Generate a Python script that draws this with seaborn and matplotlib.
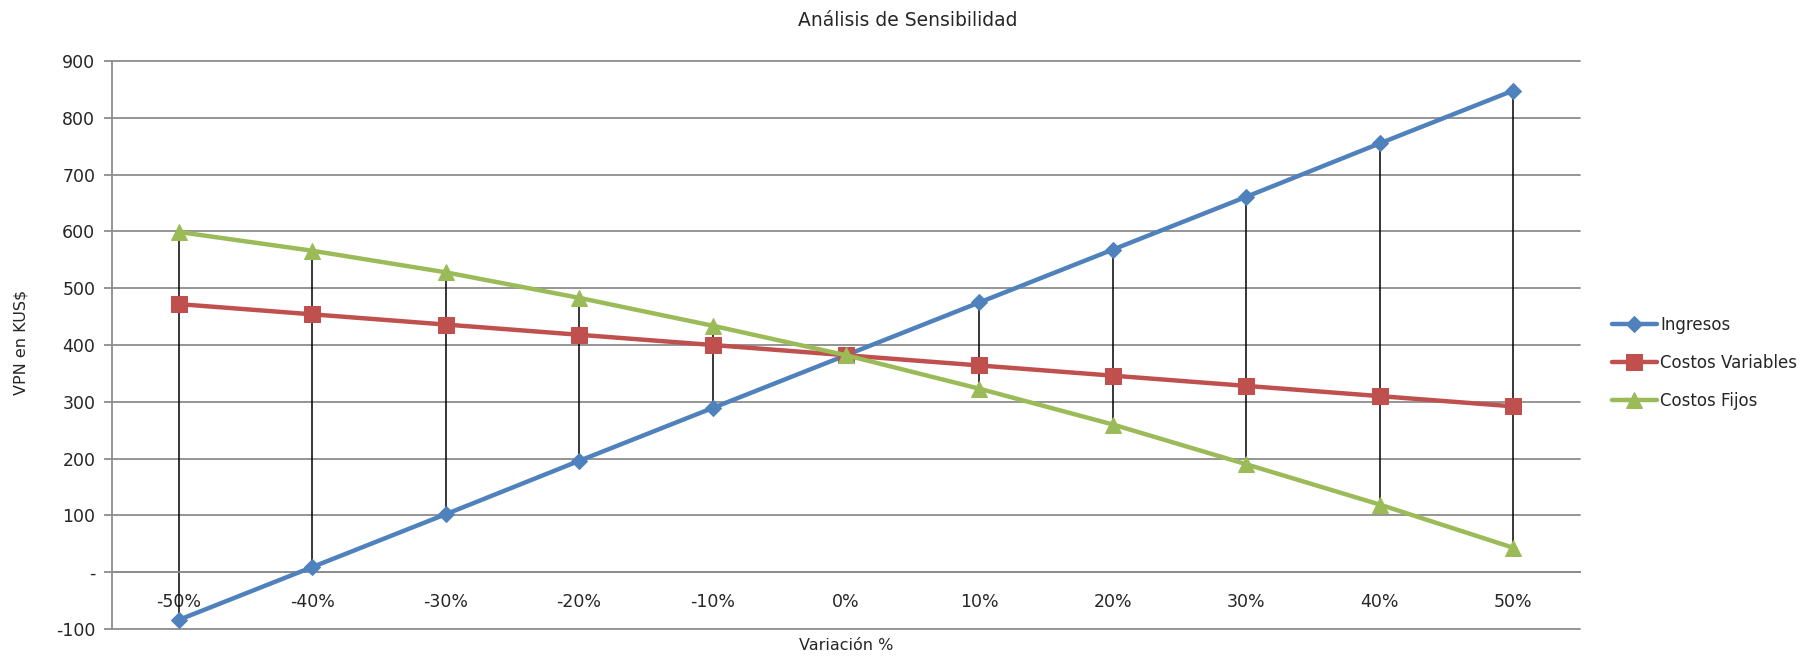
import matplotlib
matplotlib.use("Agg")
import matplotlib.pyplot as plt
import seaborn as sns
import pandas as pd
import numpy as np

categories = ["-50%", "-40%", "-30%", "-20%", "-10%", "0%", "10%", "20%", "30%", "40%", "50%"]
ingresos = [-84, 9, 102, 196, 289, 382, 475, 568, 661, 755, 848]
costos_variables = [472, 454, 436, 418, 400, 382, 364, 346, 328, 310, 292]
costos_fijos = [599, 566, 528, 483, 434, 382, 323, 260, 190, 119, 43]
series_names = ["Ingresos", "Costos Variables", "Costos Fijos"]
y_ticks = [-100, 0, 100, 200, 300, 400, 500, 600, 700, 800, 900]
y_tick_labels = ["-100", "-", "100", "200", "300", "400", "500", "600", "700", "800", "900"]

colors = {"Ingresos": "#4F81BD", "Costos Variables": "#C0504D", "Costos Fijos": "#9BBB59"}
markers = {"Ingresos": "D", "Costos Variables": "s", "Costos Fijos": "^"}
msize = {"Ingresos": 8.5, "Costos Variables": 11, "Costos Fijos": 11}

sns.set_theme(style="white")
plt.rcParams["font.family"] = ["DejaVu Sans"]

df = pd.DataFrame({
    "Variación": categories * 3,
    "VPN": ingresos + costos_variables + costos_fijos,
    "Serie": [s for s in series_names for _ in categories],
})

fig = plt.figure(figsize=(18.17, 6.58), dpi=100)
ax = fig.add_axes([112 / 1817, 1 - 629 / 658, (1580 - 112) / 1817, (629 - 61) / 658])

# high-low lines
vals = np.array([ingresos, costos_variables, costos_fijos])
xpos = np.arange(len(categories))
ax.vlines(xpos, vals.min(axis=0), vals.max(axis=0), color="black", lw=1.1, zorder=1)

for name in series_names:
    sub = df[df["Serie"] == name]
    sns.lineplot(data=sub, x="Variación", y="VPN", ax=ax, color=colors[name],
                 marker=markers[name], markersize=msize[name], markeredgecolor=colors[name],
                 linewidth=3.2, label=name, sort=False, zorder=3)

ax.set_xlim(-0.5, len(categories) - 0.5)
ax.set_ylim(-100, 900)
ax.set_yticks(y_ticks)
ax.set_yticklabels(y_tick_labels)
ax.yaxis.grid(True, color="#8c8c8c", lw=1.3)
for gl in ax.get_ygridlines():
    gl.set_clip_on(False)
ax.set_axisbelow(True)

for s in ["top", "right"]:
    ax.spines[s].set_visible(False)
ax.spines["left"].set_color("#8c8c8c")
ax.spines["left"].set_linewidth(1.3)
ax.spines["bottom"].set_position(("data", 0))
ax.spines["bottom"].set_color("#8c8c8c")
ax.spines["bottom"].set_linewidth(1.3)

ax.tick_params(axis="y", left=True, length=6, color="#8c8c8c", width=1.3, labelsize=12.5, pad=6)
ax.tick_params(axis="x", bottom=False, length=0, labelsize=12.5, pad=15)
ax.set_xticks(xpos)
ax.set_xticklabels(categories)

ax.set_xlabel("")
ax.set_ylabel("")
fig.text(21 / 1817, 1 - 342 / 658, "VPN en KUS$", rotation=90, ha="center", va="center", fontsize=11.5)
fig.text(846 / 1817, 1 - 645 / 658, "Variación %", ha="center", va="center", fontsize=11.5)
fig.text(908 / 1817, 1 - 20 / 658, "Análisis de Sensibilidad", ha="center", va="center", fontsize=13.5)

ax.legend(loc="center left", bbox_to_anchor=(1605 / 1817, 1 - 363 / 658),
          bbox_transform=fig.transFigure, frameon=False, fontsize=12,
          handlelength=2.7, handletextpad=0.2, labelspacing=1.2, borderaxespad=0)

fig.savefig("out.png", dpi=100)
